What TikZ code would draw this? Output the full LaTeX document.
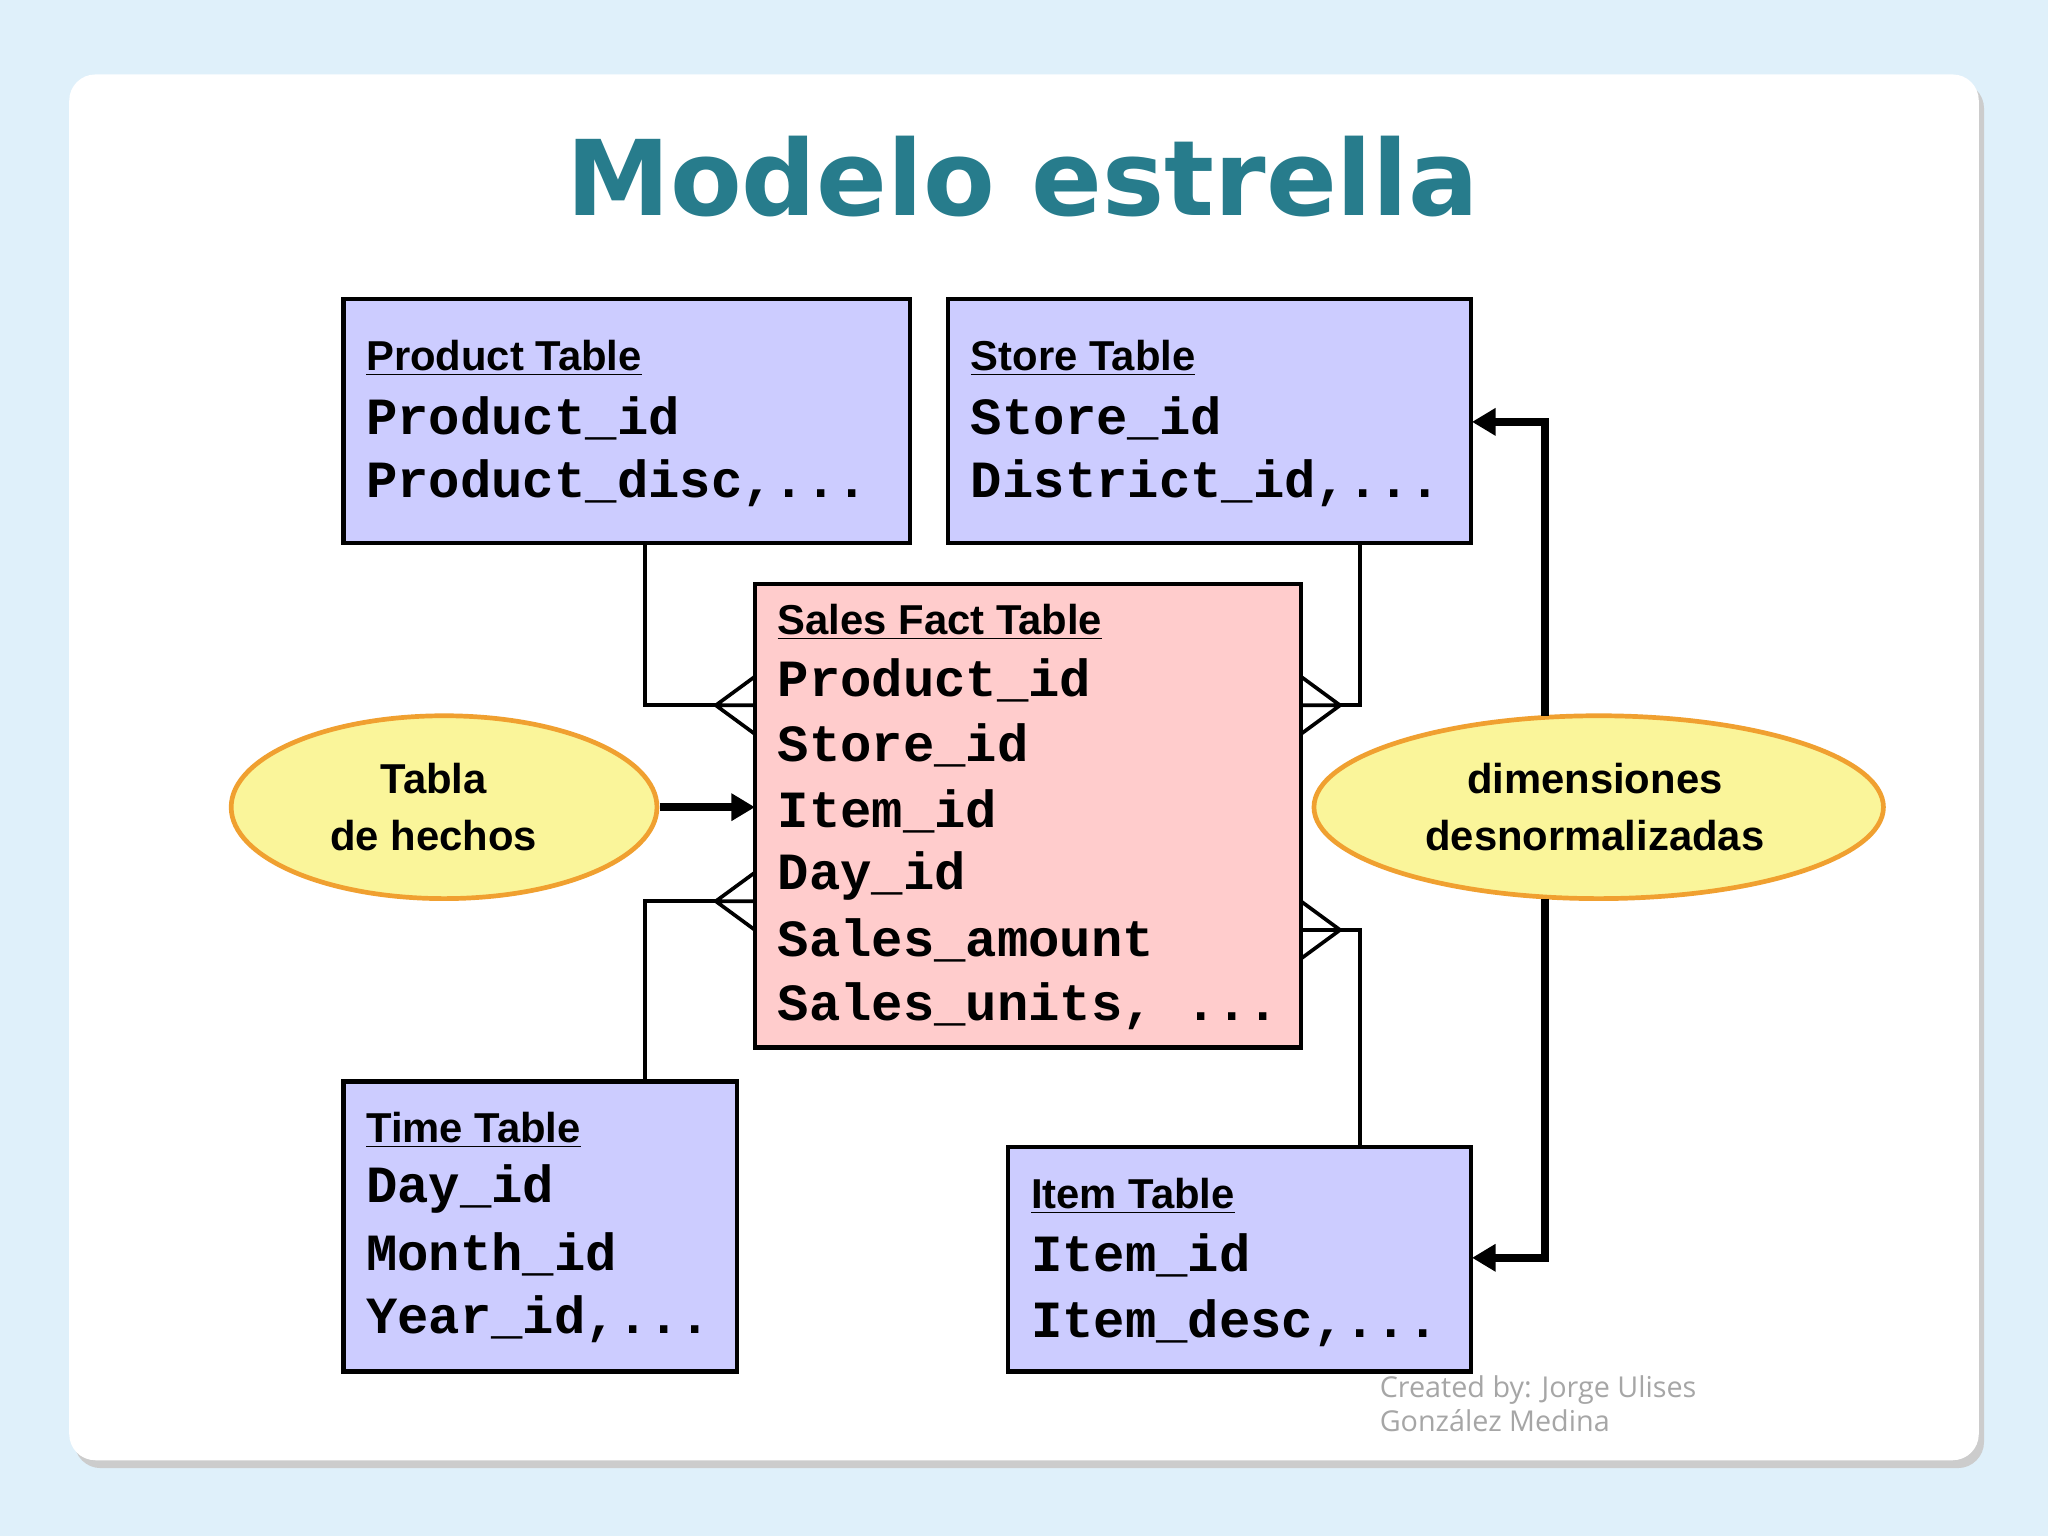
\documentclass[tikz,border=0pt]{standalone}
\usepackage{fontspec}
\setmainfont{Liberation Sans}
\newfontfamily\titlefont{DejaVu Sans}
\newfontfamily\monofont{Liberation Mono}
\newfontfamily\notefont{Open Sans}
\usetikzlibrary{arrows.meta}
\definecolor{bg}{HTML}{DFF0FA}
\definecolor{teal}{HTML}{277C8C}
\definecolor{dimfill}{HTML}{CCCCFF}
\definecolor{factfill}{HTML}{FFCCCC}
\definecolor{ellfill}{HTML}{FAF59A}
\definecolor{ellline}{HTML}{F0A030}
\tikzset{
 tbl/.style={draw=black,line width=1.6pt},
 hd/.style={anchor=west,inner sep=0pt,font=\fontsize{16}{18}\selectfont\bfseries},
 fld/.style={anchor=west,inner sep=0pt,font=\fontsize{20}{22}\selectfont\monofont\bfseries},
 ell/.style={draw=ellline,fill=ellfill,line width=1.8pt},
 eltxt/.style={align=center,font=\fontsize{16}{22}\selectfont\bfseries},
 conn/.style={line width=1.4pt},
 thick arrow/.style={line width=3pt,-{Triangle[length=9pt,width=10pt]}},
}
\begin{document}
\begin{tikzpicture}[x=0.5pt,y=-0.5pt]
\fill[bg] (0,0) rectangle (1568,1176);
\fill[gray!40, rounded corners=10pt] (57,63) rectangle (1519,1124);
\fill[white, rounded corners=10pt] (53,57) rectangle (1515,1118);
\node[text=teal,font=\fontsize{40}{44}\selectfont\titlefont\bfseries] (title) at (783,135) {Modelo estrella};
% tables
\draw[tbl,fill=dimfill] (263,229) rectangle (697,416);
\coordinate (prodB) at (494,416);
\node[hd] at (280,274) {\underline{Product Table}};
\node[fld] at (280,320) {Product\_id};
\node[fld] at (280,370) {Product\_disc,...};
\draw[tbl,fill=dimfill] (726,229) rectangle (1126,416);
\coordinate (storeB) at (1041,416);
\node[hd] at (743,274) {\underline{Store Table}};
\node[fld] at (743,320) {Store\_id};
\node[fld] at (743,370) {District\_id,...};
\draw[tbl,fill=factfill] (578,447) rectangle (996,802);
\node[hd] at (595,476) {\underline{Sales Fact Table}};
\node[fld] at (595,521) {Product\_id};
\node[fld] at (595,571) {Store\_id};
\node[fld] at (595,621) {Item\_id};
\node[fld] at (595,671) {Day\_id};
\node[fld] at (595,720) {Sales\_amount};
\node[fld] at (595,770) {Sales\_units, ...};
\draw[tbl,fill=dimfill] (263,828) rectangle (564,1050);
\coordinate (timeT) at (494,828);
\node[hd] at (280,865) {\underline{Time Table}};
\node[fld] at (280,910) {Day\_id};
\node[fld] at (280,960) {Month\_id};
\node[fld] at (280,1010) {Year\_id,...};
\draw[tbl,fill=dimfill] (772,878) rectangle (1126,1050);
\coordinate (itemT) at (1041,878);
\node[hd] at (789,916) {\underline{Item Table}};
\node[fld] at (789,961) {Item\_id};
\node[fld] at (789,1013) {Item\_desc,...};
% connectors with crow's feet
\draw[conn] (prodB) |- (548,540);
\draw[conn] (578,518) -- (548,540) -- (578,562) (548,540) -- (578,540);
\draw[conn] (timeT) |- (548,690);
\draw[conn] (578,668) -- (548,690) -- (578,712) (548,690) -- (578,690);
\draw[conn] (storeB) |- (1026,540);
\draw[conn] (996,518) -- (1026,540) -- (996,562) (1026,540) -- (996,540);
\draw[conn] (itemT) |- (1026,712);
\draw[conn] (996,690) -- (1026,712) -- (996,734) (1026,712) -- (996,712);
% ellipses
\draw[ell] (340,618) ellipse [x radius=163, y radius=70];
\node[eltxt] (hechos) at (332,618) {Tabla\\de hechos};
\draw[ell] (1224,618) ellipse [x radius=218, y radius=70];
\node[eltxt] (dims) at (1221,618) {dimensiones\\desnormalizadas};
\draw[thick arrow] (505,618) -- (578,618);
\draw[thick arrow] (1183,548) |- (1127,323);
\draw[thick arrow] (1183,688) |- (1127,963);
\node[anchor=north west,align=left,inner sep=0pt,text=gray!70,font=\fontsize{11}{13}\selectfont\notefont] (credit) at (1056,1053) {Created by: Jorge Ulises\\González Medina};
\end{tikzpicture}
\end{document}
